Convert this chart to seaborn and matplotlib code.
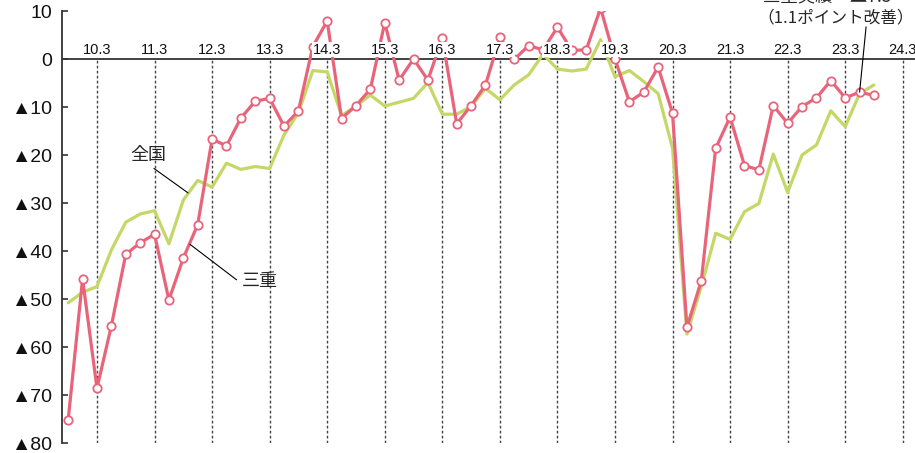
import matplotlib
matplotlib.use("Agg")
import matplotlib.pyplot as plt
import seaborn as sns
import pandas as pd

# quarterly periods, 2009.9 .. 2024.3 (data runs to 2023.9)
periods = []
for yy in range(9, 25):
    for mm in (3, 6, 9, 12):
        periods.append(f"{yy:02d}.{mm}")
periods = periods[periods.index("09.9"):periods.index("24.3") + 1]

# 三重
mie = [-75.2, -45.8, -68.6, -55.6, -40.7, -38.3, -36.5, -50.2, -41.5, -34.5,
       -16.7, -18.1, -12.3, -8.8, -8.2, -14.0, -10.8, 2.6, 7.9, -12.4,
       -9.7, -6.3, 7.6, -4.4, 0.0, -4.4, 4.4, -13.5, -9.7, -5.4,
       4.5, -0.1, 2.8, 1.9, 6.6, 1.8, 1.9, 10.6, 0.0, -8.9,
       -6.9, -1.7, -11.3, -55.9, -46.2, -18.6, -12.1, -22.2, -23.1, -9.7,
       -13.4, -9.9, -8.1, -4.5, -8.1, -6.9, -7.6]
# 全国
zenkoku = [-50.8, -48.6, -47.4, -39.8, -34.0, -32.3, -31.6, -38.5, -29.4, -25.3,
           -26.7, -21.7, -23.0, -22.4, -22.8, -15.8, -11.2, -2.4, -2.7, -11.8,
           -9.8, -7.5, -9.8, -9.0, -8.2, -4.9, -11.5, -11.5, -9.9, -6.1,
           -8.5, -5.4, -3.3, 1.0, -2.1, -2.5, -2.1, 4.0, -3.7, -2.4,
           -4.7, -7.2, -18.6, -57.3, -47.4, -36.3, -37.6, -31.8, -30.1, -19.8,
           -27.8, -20.0, -17.9, -10.8, -14.1, -7.2, -5.4]

march_labels = [f"{y}.3" for y in range(10, 25)]
ytick_vals = [10, 0, -10, -20, -30, -40, -50, -60, -70, -80]
ytick_labels = ["10", "0", "▲10", "▲20", "▲30", "▲40", "▲50", "▲60", "▲70", "▲80"]

df = pd.DataFrame({"idx": range(len(mie)), "mie": mie, "zenkoku": zenkoku})

sns.set_style("white")
plt.rcParams["font.family"] = ["Liberation Sans", "Noto Sans CJK JP", "DejaVu Sans"]
jp = ["Noto Sans CJK JP", "DejaVu Sans"]

RED = "#E8647B"
GREEN = "#C3D866"

fig = plt.figure(figsize=(9.15, 4.53), dpi=100)
ax = fig.add_axes([62 / 915, 10 / 453, 853 / 915, 432 / 453])

sns.lineplot(data=df, x="idx", y="zenkoku", color=GREEN, linewidth=2.3, ax=ax, zorder=3)
sns.lineplot(data=df, x="idx", y="mie", color=RED, linewidth=2.3, marker="o",
             markersize=6, markerfacecolor="white", markeredgecolor=RED,
             markeredgewidth=1.3, ax=ax, zorder=4)

ax.set_xlim(-0.43, 58.85)
ax.set_ylim(-80, 10)

# dashed March lines and labels above the zero line
for lab in march_labels:
    xp = periods.index(lab)
    ax.vlines(xp, -80, 0, colors="#444444", linewidth=1.0, linestyles=(0, (2, 1.6)), zorder=1)
    ax.text(xp, 0.5, lab, ha="center", va="bottom", fontsize=10.5, color="#111111", zorder=6,
            bbox=dict(facecolor="white", edgecolor="none", pad=0.6))

ax.axhline(0, color="#333333", linewidth=1.3, zorder=2)

ax.set_xticks([])
ax.set_yticks(ytick_vals)
ax.set_yticklabels(ytick_labels, fontsize=14, color="#111111")
ax.tick_params(axis="y", direction="in", length=4, width=1.2, color="#333333", pad=7, left=True)
ax.set_xlabel("")
ax.set_ylabel("")
for s in ("top", "right", "bottom"):
    ax.spines[s].set_visible(False)
ax.spines["left"].set_color("#333333")
ax.spines["left"].set_linewidth(1.3)

# series labels with leader lines
ax.text(5.6, -20.0, "全国", ha="center", va="center", fontsize=13, family=jp, zorder=6)
ax.plot([5.96, 8.33], [-22.8, -27.9], color="black", linewidth=0.8, zorder=5)
ax.text(13.3, -46.3, "三重", ha="center", va="center", fontsize=13, family=jp, zorder=6)
ax.plot([8.46, 11.7], [-38.6, -46.0], color="black", linewidth=0.8, zorder=5)

# latest-value callout (top line mostly outside the figure, as in the source)
fig.text(827 / 915, 1 + 4 / 453, "三重実績　▲7.3", ha="center", va="center", fontsize=12.5,
         family=jp, zorder=6)
fig.text(836 / 915, 1 - 18 / 453, "（1.1ポイント改善）", ha="center", va="center", fontsize=12,
         family=jp, zorder=6)
ax.plot([55.45, 55.0], [6.7, mie[55]], color="black", linewidth=0.8, zorder=5, clip_on=False)

fig.savefig("out.png", dpi=100)
